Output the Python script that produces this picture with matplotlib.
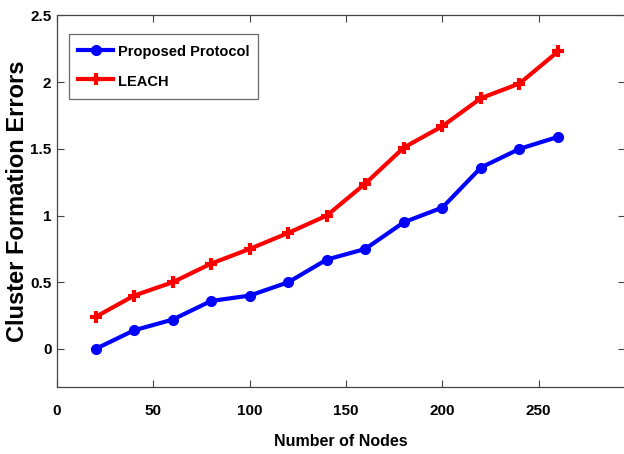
import matplotlib
matplotlib.use("Agg")
import matplotlib.pyplot as plt

# number of nodes in the network
nodes = [20, 40, 60, 80, 100, 120, 140, 160, 180, 200, 220, 240, 260]

# cluster formation errors per protocol
proposed_errors = [0.0, 0.14, 0.22, 0.36, 0.40, 0.50, 0.67, 0.75, 0.95, 1.06, 1.36, 1.50, 1.59]
leach_errors = [0.24, 0.40, 0.50, 0.64, 0.75, 0.87, 1.00, 1.24, 1.51, 1.67, 1.88, 1.99, 2.23]

x_ticks = [0, 50, 100, 150, 200, 250]
y_ticks = [0, 0.5, 1, 1.5, 2, 2.5]
y_tick_labels = ["0", "0.5", "1", "1.5", "2", "2.5"]

plt.rcParams['font.family'] = ['Liberation Sans', 'DejaVu Sans']
plt.rcParams['font.weight'] = 'bold'

fig = plt.figure(figsize=(6.24, 4.54), dpi=100)
ax = fig.add_axes([0.0913, 0.1476, 0.911, 0.8183])

ax.plot(nodes, proposed_errors, color='blue', linewidth=3, marker='o',
        markersize=6, markeredgewidth=2, label='Proposed Protocol')
ax.plot(nodes, leach_errors, color='red', linewidth=3, marker='+',
        markersize=9, markeredgewidth=3, label='LEACH')

ax.set_xlim(0, 295)
ax.set_ylim(-0.285, 2.5)
ax.set_xticks(x_ticks)
ax.set_yticks(y_ticks)
ax.set_yticklabels(y_tick_labels)
ax.tick_params(direction='in', top=True, right=True, length=5,
               width=0.8, color='#444444', labelsize=11)
ax.tick_params(axis='x', pad=12)
ax.tick_params(axis='y', pad=4)
for spine in ax.spines.values():
    spine.set_color('#444444')
    spine.set_linewidth(0.9)

ax.set_xlabel("Number of Nodes", fontsize=11.5, fontweight='bold', labelpad=12)
ax.set_ylabel("Cluster Formation Errors", fontsize=17, fontweight='bold')
ax.yaxis.set_label_coords(-0.05, 0.5)

leg = ax.legend(loc='upper left', bbox_to_anchor=(0.021, 0.951), fontsize=10.5,
                frameon=True, fancybox=False, edgecolor='#444444',
                handlelength=2.4, handleheight=1.4, handletextpad=0.3,
                borderpad=0.64, labelspacing=0.86, borderaxespad=0)
leg.get_frame().set_linewidth(0.9)

fig.savefig("out.png", dpi=100)
